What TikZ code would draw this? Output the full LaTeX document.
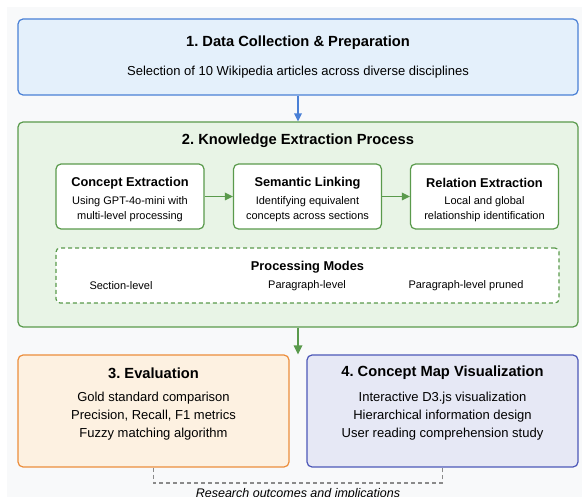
\documentclass[tikz,border=0pt]{standalone}
\usepackage{fontspec}
\setmainfont{Liberation Sans}
\usetikzlibrary{positioning}
\frenchspacing

\definecolor{pagegray}{HTML}{F8F9FA}
\definecolor{blueline}{HTML}{4A80D6}
\definecolor{bluefill}{HTML}{E4F0FB}
\definecolor{greenline}{HTML}{5A9A4C}
\definecolor{greenfill}{HTML}{E8F4E6}
\definecolor{orangeline}{HTML}{EC8E3C}
\definecolor{orangefill}{HTML}{FDF1E1}
\definecolor{violetline}{HTML}{4D58B8}
\definecolor{violetfill}{HTML}{E6E8F5}
\definecolor{dashgray}{HTML}{8A8A8A}

\tikzset{every picture/.style={line width=0.75pt}}
\tikzset{
  stagebox/.style={draw, rounded corners=5pt, line width=1.2pt, inner sep=0pt},
  innerbox/.style={draw=greenline, fill=white, rounded corners=5pt, line width=1.2pt, inner sep=0pt,
    minimum width=148pt, minimum height=65pt},
  headtext/.style={font=\fontsize{14.7}{16}\selectfont\bfseries},
  subhead/.style={font=\fontsize{12.8}{14}\selectfont\bfseries},
  bodytext/.style={font=\fontsize{13}{15}\selectfont},
  smalltext/.style={font=\fontsize{11}{13}\selectfont}
}

\begin{document}
\begin{tikzpicture}[x=1pt,y=1pt]
\tikzstyle{every node}+=[inner sep=0pt]
\useasboundingbox (0,0) rectangle (582,-497);
\fill [white] (0,0) rectangle (582,-497);
\fill [pagegray] (7,-7) rectangle (582,-497);
\node [stagebox, draw=blueline, fill=bluefill, minimum width=560pt, minimum height=76pt] (collect) at (298,-57) {};
\draw (298,-43) node [headtext] (collecthead) {1. Data Collection \& Preparation};
\draw (298,-72) node [bodytext] (collectbody) {Selection of 10 Wikipedia articles across diverse disciplines};
\node [stagebox, draw=greenline, fill=greenfill, minimum width=560pt, minimum height=205pt] (extract) at (298,-224.5) {};
\draw (298,-141) node [headtext] (extracthead) {2. Knowledge Extraction Process};
\node [innerbox] (concept) at (130,-196.5) {};
\draw (130,-183) node [subhead] {Concept Extraction};
\draw (130,-202) node [smalltext] {Using GPT-4o-mini with};
\draw (130,-217) node [smalltext] {multi-level processing};
\node [innerbox] (linking) at (307.5,-196.5) {};
\draw (307.5,-183) node [subhead] {Semantic Linking};
\draw (307.5,-202) node [smalltext] {Identifying equivalent};
\draw (307.5,-217) node [smalltext] {concepts across sections};
\node [innerbox] (relation) at (484.5,-196.5) {};
\draw (484.5,-183) node [subhead] {Relation Extraction};
\draw (484.5,-202) node [smalltext] {Local and global};
\draw (484.5,-217) node [smalltext] {relationship identification};
\node [draw=greenline, fill=white, dashed, dash pattern=on 4pt off 3pt, rounded corners=4pt, line width=1.2pt,
  minimum width=503pt, minimum height=55pt] (modes) at (307.5,-275.5) {};
\draw (307.5,-267) node [subhead] {Processing Modes};
\draw (121,-286) node [smalltext] {Section-level};
\draw (307,-286) node [smalltext] {Paragraph-level};
\draw (466,-286) node [smalltext] {Paragraph-level pruned};
\node [stagebox, draw=orangeline, fill=orangefill, minimum width=271pt, minimum height=112pt] (evaluation) at (153.5,-411) {};
\draw (153.5,-373) node [headtext] {3. Evaluation};
\draw (153.5,-398) node [bodytext] {Gold standard comparison};
\draw (153.5,-416) node [bodytext] {Precision, Recall, F1 metrics};
\draw (153.5,-434) node [bodytext] {Fuzzy matching algorithm};
\node [stagebox, draw=violetline, fill=violetfill, minimum width=271pt, minimum height=112pt] (mapviz) at (442.5,-411) {};
\draw (442.5,-373) node [headtext] {4. Concept Map Visualization};
\draw (442.5,-398) node [bodytext] {Interactive D3.js visualization};
\draw (442.5,-416) node [bodytext] {Hierarchical information design};
\draw (442.5,-434) node [bodytext] {User reading comprehension study};
\draw [blueline, line width=1.5pt] (collect.south) -- ([yshift=7pt]extract.north);
\fill [blueline] (extract.north) -- ++(-4,8) -- ++(8,0);
\draw [greenline, line width=1.5pt] (extract.south) -- ([yshift=7pt]evaluation.north -| extract.south);
\fill [greenline] (evaluation.north -| extract.south) -- ++(-4.5,9) -- ++(9,0);
\draw [greenline, line width=1.5pt] (concept.east) -- ([xshift=-7pt]linking.west);
\fill [greenline] (linking.west) -- ++(-8,4) -- ++(0,-8);
\draw [greenline, line width=1.5pt] (linking.east) -- ([xshift=-7pt]relation.west);
\fill [greenline] (relation.west) -- ++(-8,4) -- ++(0,-8);
\coordinate (outleft) at (153.5,-483);
\coordinate (outright) at (442.5,-483);
\draw [dashgray, dashed, dash pattern=on 4pt off 3pt, line width=1.2pt] (evaluation.south) -- (outleft) -- (outright) -- (mapviz.south);
\draw (298,-488) node [anchor=north, font=\fontsize{12.5}{14}\selectfont\itshape] (outcome) {Research outcomes and implications};
\end{tikzpicture}
\end{document}
